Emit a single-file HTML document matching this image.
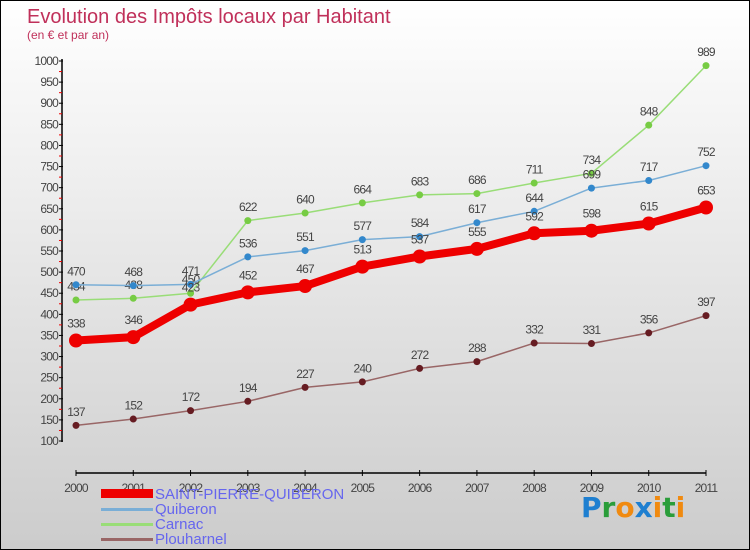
<!DOCTYPE html>
<html><head><meta charset="utf-8"><style>
html,body{margin:0;padding:0}
body{width:750px;height:550px;overflow:hidden;font-family:"Liberation Sans",sans-serif}
#wrap{position:relative;width:748px;height:548px;border:1px solid #000;background:linear-gradient(#ffffff,#cccccc)}
</style></head><body>
<div id="wrap">
<svg id="chart" width="748" height="548" style="position:absolute;left:0;top:0">
<text x="26" y="22" font-size="20" fill="#c0305a">Evolution des Impôts locaux par Habitant</text>
<text x="26" y="38" font-size="12" fill="#c0305a">(en € et par an)</text>
<g id="axes"></g><g id="series"></g>
<g>
<rect x="100" y="488" width="52" height="9" fill="#ee0000"/>
<text x="154" y="498" font-size="15" fill="#6666ee">SAINT-PIERRE-QUIBERON</text>
<rect x="100" y="507" width="52" height="3" fill="#7aaed6"/>
<text x="154" y="513" font-size="15" fill="#6666ee">Quiberon</text>
<rect x="100" y="522" width="52" height="3" fill="#99dd77"/>
<text x="154" y="528" font-size="15" fill="#6666ee">Carnac</text>
<rect x="100" y="537" width="52" height="3" fill="#996666"/>
<text x="154" y="543" font-size="15" fill="#6666ee">Plouharnel</text>
</g>
<g font-size="28" font-weight="bold" font-family="'DejaVu Sans',sans-serif">
<text x="580" y="516"><tspan fill="#1e7fd0">P</tspan><tspan fill="#2a9d3a">r</tspan><tspan fill="#f08a10">o</tspan><tspan fill="#1e7fd0">x</tspan><tspan fill="#f08a10">i</tspan><tspan fill="#2a9d3a">t</tspan><tspan fill="#f08a10">i</tspan></text>
</g>
</svg>
</div>
<script>
const years=["2000","2001","2002","2003","2004","2005","2006","2007","2008","2009","2010","2011"];
const yTicks=[100,150,200,250,300,350,400,450,500,550,600,650,700,750,800,850,900,950,1000];
const saintPierre=[338,346,423,452,467,513,537,555,592,598,615,653];
const quiberon=[470,468,471,536,551,577,584,617,644,699,717,752];
const carnac=[434,438,450,622,640,664,683,686,711,734,848,989];
const plouharnel=[137,152,172,194,227,240,272,288,332,331,356,397];
const NS="http://www.w3.org/2000/svg";
const xS=i=>75+i*(630/11);
const yS=v=>440-(v-100)*(380/900);
function mk(t,a,p){const e=document.createElementNS(NS,t);for(const k in a)e.setAttribute(k,a[k]);p.appendChild(e);return e;}
const ax=document.getElementById('axes');
let yl=mk('line',{x1:61,y1:58,x2:61,y2:441,stroke:'#000','stroke-width':1.5},ax);


yTicks.forEach(v=>{
 mk('line',{x1:58,y1:yS(v),x2:62,y2:yS(v),stroke:'#000'},ax);
 if(v<1000)mk('line',{x1:58,y1:yS(v+25),x2:61,y2:yS(v+25),stroke:'#e00'},ax);
 const t=mk('text',{x:57,y:yS(v)+4,'text-anchor':'end','font-size':12,fill:'#444','letter-spacing':'-0.8'},ax);
 t.textContent=v;
 
 
});
let xl=mk('line',{x1:75,y1:472,x2:705,y2:472,stroke:'#000','stroke-width':1.5},ax);


years.forEach((y,i)=>{
 mk('line',{x1:xS(i),y1:469,x2:xS(i),y2:475,stroke:'#000'},ax);
 const t=mk('text',{x:xS(i),y:491,'text-anchor':'middle','font-size':12,fill:'#444','letter-spacing':'-0.8'},ax);
 t.textContent=y;
 
 
});
const sg=document.getElementById('series');
function draw(data,name,color,w,r,dot){
 const g=mk('g',{},sg);
 
 
 mk('polyline',{points:data.map((v,i)=>xS(i)+','+yS(v)).join(' '),fill:'none',stroke:color,'stroke-width':w,'stroke-linejoin':'round'},g);
 data.forEach((v,i)=>{
  const c=mk('circle',{cx:xS(i),cy:yS(v),r:r,fill:dot},g);
  
  
  const t=mk('text',{x:xS(i),y:yS(v)-(r+6),'text-anchor':'middle','font-size':12,fill:'#444','letter-spacing':'-0.8'},g);
  t.textContent=v;
  
  
 });
}
draw(plouharnel,'plouharnel','#996666',1.5,3.5,'#661c22');
draw(carnac,'carnac','#99dd77',1.5,3.5,'#77cc44');
draw(quiberon,'quiberon','#7aaed6',1.5,3.5,'#3388cc');
draw(saintPierre,'saint-pierre-quiberon','#ee0000',8,7,'#ee0000');
</script>
</body></html>
